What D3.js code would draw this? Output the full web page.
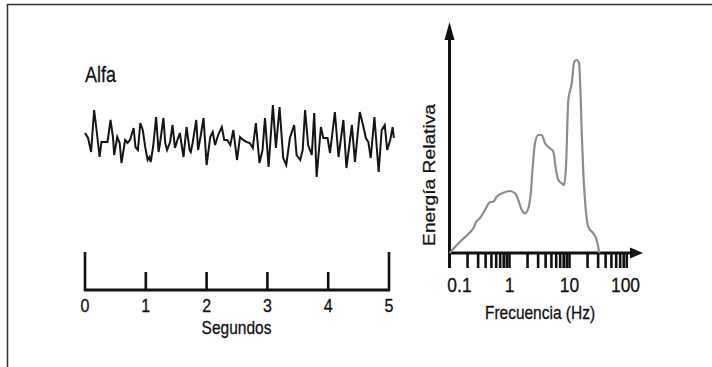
<!DOCTYPE html>
<html>
<head>
<meta charset="utf-8">
<script src="https://cdn.jsdelivr.net/npm/d3@7"></script>
<style>
  body { margin: 0; background: #fff; }
  svg { display: block; font-family: "Liberation Sans", Arial, sans-serif; }
</style>
</head>
<body>
<div id="chart"></div>
<script>
// señal alfa: tiempo (s) y amplitud (unidades arbitrarias)
const tiempo = [0, 0.05, 0.10, 0.15, 0.19, 0.24, 0.27, 0.33, 0.37, 0.42, 0.46, 0.48, 0.53, 0.57, 0.60, 0.66, 0.70, 0.74, 0.80, 0.83,
  0.87, 0.91, 0.95, 0.99, 1.03, 1.06, 1.08, 1.12, 1.17, 1.21, 1.23, 1.29, 1.32, 1.35, 1.40, 1.44, 1.48, 1.52, 1.56, 1.62,
  1.67, 1.72, 1.74, 1.77, 1.83, 1.86, 1.90, 1.95, 2.00, 2.06, 2.10, 2.14, 2.19, 2.25, 2.29, 2.34, 2.39, 2.44, 2.50, 2.55,
  2.60, 2.66, 2.71, 2.76, 2.81, 2.87, 2.92, 2.96, 3.02, 3.09, 3.14, 3.20, 3.26, 3.31, 3.37, 3.44, 3.48, 3.54, 3.58, 3.62,
  3.67, 3.73, 3.77, 3.81, 3.88, 3.92, 3.99, 4.03, 4.11, 4.17, 4.25, 4.30, 4.39, 4.44, 4.52, 4.58, 4.62, 4.66, 4.70, 4.76,
  4.83, 4.88, 4.93, 4.97, 5.02, 5.06, 5.08];
const amplitud = [7, 2, -12, 30, 10, -17, -2, -2, -2, 20, 3, -15, 3, -3, -23, 0, -3, 0, 12, -7,
  -10, 17, 10, -7, -20, -17, -22, -7, 23, -12, -5, 22, -3, -10, -2, 15, -8, 0, 7, -17,
  13, -10, -12, -3, 20, -10, 3, 22, -25, 3, 8, -5, 5, 13, 0, 0, -5, 10, -20, 3,
  0, -2, -3, -8, 17, -23, -10, 22, -27, 35, -8, 33, -18, -25, 2, 15, -15, -20, -10, 30,
  -5, -15, 27, -37, 13, 2, 2, -13, 28, -17, 20, -28, 15, -22, 28, 13, 2, -2, -18, 23,
  -32, 10, 15, -10, 0, 13, 2];
const segundos = [0, 1, 2, 3, 4, 5];

// espectro: frecuencia (Hz) y energía relativa (0-100)
const frecuencia = [0.1, 0.15, 0.21, 0.25, 0.28, 0.32, 0.39, 0.47, 0.54, 0.61, 0.79, 1.02, 1.24, 1.40, 1.60, 1.81, 2.06, 2.26, 2.44, 2.66,
  3.02, 3.44, 3.91, 4.73, 5.37, 5.96, 6.51, 7.41, 8.10, 8.74, 9.55, 10.9, 12.0, 13.2, 14.4, 15.4, 16.0, 17.0, 18.1, 20.6,
  24.9, 28.4, 31.4];
const energia = [0, 5.3, 9.2, 11.6, 14.7, 16.3, 20.2, 23.8, 24.1, 26.4, 28.3, 29.1, 28.0, 24.9, 20.2, 18.6, 21.0, 28.0, 40.5, 51.5,
  55.4, 55.4, 51.5, 49.2, 47.6, 39.0, 34.3, 32.7, 31.9, 40.5, 71.8, 79.7, 89.8, 90.6, 89.1, 71.8, 56.2, 37.4, 24.9, 12.3,
  9.2, 6.1, 0];
const etiquetasFrec = [0.1, 1, 10, 100];

const W = 712, H = 367;
const svg = d3.select("#chart").append("svg").attr("width", W).attr("height", H);

// marco
svg.append("path")
  .attr("d", `M7.5,${H} L7.5,4.5 L${W},4.5`)
  .attr("fill", "none").attr("stroke", "#333").attr("stroke-width", 1.5);

function texto(x, y, str, size, anchor, sy) {
  return svg.append("text")
    .attr("transform", `translate(${x},${y}) scale(1,${sy || 1.2})`)
    .attr("text-anchor", anchor || "middle")
    .style("font-size", size + "px")
    .attr("fill", "#111")
    .attr("stroke", "#111")
    .attr("stroke-width", 0.25)
    .text(str);
}

// ---------- panel izquierdo ----------
const xT = d3.scaleLinear().domain([0, 5]).range([85, 389]);
const yA = d3.scaleLinear().domain([-40, 40]).range([180, 100]);

texto(85, 82, "Alfa", 18, "start");

const onda = tiempo.map((t, i) => ({ t, a: amplitud[i] }));
svg.append("path")
  .datum(onda)
  .attr("fill", "none")
  .attr("stroke", "#151515")
  .attr("stroke-width", 2)
  .attr("d", d3.line().x(d => xT(d.t)).y(d => yA(d.a)));

const yBase = 290;
svg.append("line")
  .attr("x1", xT(0) - 1).attr("x2", xT(5) + 1)
  .attr("y1", yBase).attr("y2", yBase)
  .attr("stroke", "#111").attr("stroke-width", 3);

svg.selectAll(".tickT")
  .data(segundos)
  .enter().append("line")
  .attr("class", "tickT")
  .attr("x1", d => xT(d)).attr("x2", d => xT(d))
  .attr("y1", yBase + 1)
  .attr("y2", d => (d === 0 || d === 5) ? 252 : 272)
  .attr("stroke", "#111").attr("stroke-width", 2.6);

segundos.forEach(d => texto(xT(d), 311.5, d, 16));
texto(236.5, 334, "Segundos", 15.5);

// ---------- panel derecho ----------
const xF = d3.scaleLog().domain([0.1, 100]).range([449.5, 629.5]);
const yE = d3.scaleLinear().domain([0, 100]).range([253, 40]);
const x0 = xF(0.1), y0 = yE(0);

// ticks menores 0.2 ... 90
const ticksF = [];
[0.1, 1, 10].forEach(dec => d3.range(1, 10).forEach(m => ticksF.push(dec * m)));
svg.selectAll(".tickF")
  .data(ticksF.filter(d => d > 0.1))
  .enter().append("line")
  .attr("class", "tickF")
  .attr("x1", d => xF(d)).attr("x2", d => xF(d))
  .attr("y1", y0).attr("y2", y0 + 15)
  .attr("stroke", "#111").attr("stroke-width", 2.6);

// ejes con flecha
svg.append("line")
  .attr("x1", x0).attr("x2", x0)
  .attr("y1", y0 + 15).attr("y2", 38)
  .attr("stroke", "#111").attr("stroke-width", 3);
svg.append("path")
  .attr("d", `M${x0},22 L${x0 - 5},40 L${x0 + 5},40 Z`)
  .attr("fill", "#111");
svg.append("line")
  .attr("x1", x0 - 1.5).attr("x2", 633)
  .attr("y1", y0).attr("y2", y0)
  .attr("stroke", "#111").attr("stroke-width", 3);
svg.append("path")
  .attr("d", `M643,${y0} L630,${y0 - 5.5} L630,${y0 + 5.5} Z`)
  .attr("fill", "#111");

const espectro = frecuencia.map((f, i) => ({ f, e: energia[i] }));
svg.append("path")
  .datum(espectro)
  .attr("fill", "none")
  .attr("stroke", "#8c8c8c")
  .attr("stroke-width", 2.2)
  .attr("d", d3.line().x(d => xF(d.f)).y(d => yE(d.e)).curve(d3.curveMonotoneX));

etiquetasFrec.forEach(v => {
  const dx = v === 0.1 ? 10 : (v === 100 ? -4 : 0);
  texto(xF(v) + dx, 291.5, v, 17.5);
});
texto(540, 319, "Frecuencia (Hz)", 15.5);

svg.append("text")
  .attr("transform", `translate(434.5,175) rotate(-90) scale(1.2,1)`)
  .attr("text-anchor", "middle")
  .style("font-size", "16px")
  .attr("fill", "#111")
  .attr("stroke", "#111")
  .attr("stroke-width", 0.25)
  .text("Energía Relativa");
</script>
</body>
</html>
